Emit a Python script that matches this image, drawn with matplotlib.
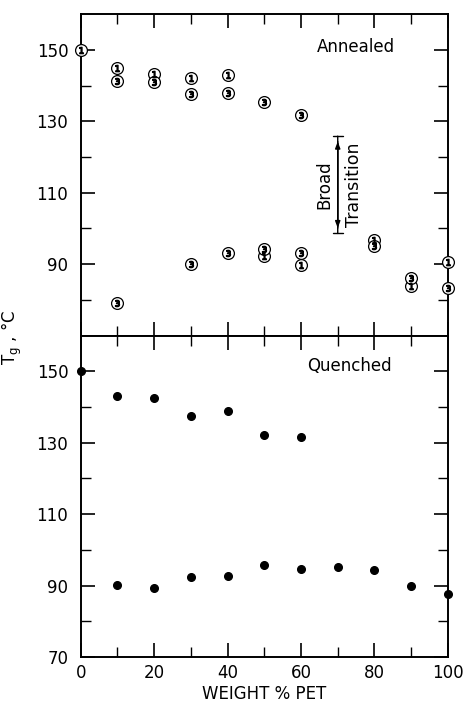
import numpy as np
import matplotlib
matplotlib.use('Agg')
import matplotlib.pyplot as plt
import matplotlib.ticker as ticker

# annealed samples, run 1 and run 3 (upper / lower branch)
ann1_x = [0, 10, 20, 30, 40, 50, 60, 80, 90, 100]
ann1_y = [150, 145, 143.3, 142.2, 143, 92.2, 89.8, 96.8, 84, 90.5]
ann3_x = [10, 20, 30, 40, 50, 60, 10, 30, 40, 50, 60, 80, 90, 100]
ann3_y = [141.4, 141, 137.7, 138, 135.5, 131.8, 79.1, 90, 93, 94.3, 93, 95.1, 86.1, 83.3]

# quenched samples
q_x = [0, 10, 20, 30, 40, 50, 60, 10, 20, 30, 40, 50, 60, 70, 80, 90, 100]
q_y = [150, 143, 142.6, 137.5, 139, 132.1, 131.7, 90.1, 89.4, 92.3, 92.8, 95.7, 94.7, 95.3, 94.3, 89.8, 87.5]

# broad transition arrow
trans_x  = 70
trans_lo = 97.8
trans_hi = 126.6

yticks = [70, 90, 110, 130, 150]
xticks = [0, 20, 40, 60, 80, 100]

fs = 12
plt.rcParams['font.family'] = 'DejaVu Sans'

fig, axs = plt.subplots(2, 1, figsize=(4.67, 7.04), dpi=100, sharex=True)
fig.subplots_adjust(left=0.173, right=0.959, top=0.980, bottom=0.0668, hspace=0.0)

for ax in axs:
    ax.set_xlim(0, 100)
    ax.set_ylim(70, 160)
    ax.xaxis.set_major_locator(ticker.MultipleLocator(20))
    ax.xaxis.set_minor_locator(ticker.MultipleLocator(10))
    ax.yaxis.set_major_locator(ticker.FixedLocator([90, 110, 130, 150]))
    ax.yaxis.set_minor_locator(ticker.FixedLocator([80, 100, 120, 140]))
    ax.tick_params('both', which='major', direction='in', length=10, width=1.2,
                   top=True, right=True, labelsize=fs)
    ax.tick_params('both', which='minor', direction='in', length=7, width=1.0,
                   top=True, right=True)
    ax.tick_params('y', which='major', pad=9)
    ax.tick_params('x', which='major', pad=5)
    for sp in ax.spines.values():
        sp.set_linewidth(1.4)

ax = axs[0]
ax.plot(ann1_x, ann1_y, linestyle='none', marker='o', markersize=8.5, markerfacecolor='white',
        markeredgecolor='black', markeredgewidth=0.9, clip_on=False, zorder=3)
ax.plot(ann1_x, ann1_y, linestyle='none', marker='$1$', markersize=4.5, color='black', clip_on=False, zorder=4)
ax.plot(ann3_x, ann3_y, linestyle='none', marker='o', markersize=8.5, markerfacecolor='white',
        markeredgecolor='black', markeredgewidth=0.9, clip_on=False, zorder=3)
ax.plot(ann3_x, ann3_y, linestyle='none', marker='$3$', markersize=4.5, color='black', clip_on=False, zorder=4)
ax.tick_params('x', which='both', labelbottom=False)
ax.text(0.75, 0.898, 'Annealed', transform=ax.transAxes, ha='center', va='center', fontsize=fs)

ax.annotate('', xy=(trans_x, trans_hi), xytext=(trans_x, trans_lo),
            arrowprops=dict(arrowstyle='|-|,widthA=0.35,widthB=0.35', color='black', lw=1.0))
ax.annotate('', xy=(trans_x, trans_hi - 1.5), xytext=(trans_x, trans_lo + 1.5),
            arrowprops=dict(arrowstyle='-|>,head_length=0.4,head_width=0.15', color='black', lw=1.0))
ax.annotate('', xy=(trans_x, trans_lo + 1.5), xytext=(trans_x, trans_hi - 1.5),
            arrowprops=dict(arrowstyle='-|>,head_length=0.4,head_width=0.15', color='black', lw=1.0))
ax.text(trans_x - 3.6, (trans_lo + trans_hi) / 2, 'Broad', rotation=90, ha='center', va='center', fontsize=12)
ax.text(trans_x + 4.3, (trans_lo + trans_hi) / 2, 'Transition', rotation=90, ha='center', va='center', fontsize=12.5)

ax = axs[1]
ax.plot(q_x, q_y, linestyle='none', marker='o', markersize=5.5, color='black', clip_on=False, zorder=3)
ax.yaxis.set_major_locator(ticker.FixedLocator(yticks))
ax.set_xticks(xticks)
ax.text(0.733, 0.906, 'Quenched', transform=ax.transAxes, ha='center', va='center', fontsize=fs)
ax.set_xlabel('WEIGHT % PET', fontsize=fs, labelpad=2)

fig.text(0.026, 0.521, r'T$_\mathregular{g}$ , °C', rotation=90, ha='center', va='center', fontsize=fs)

fig.savefig('out.png', dpi=100)
